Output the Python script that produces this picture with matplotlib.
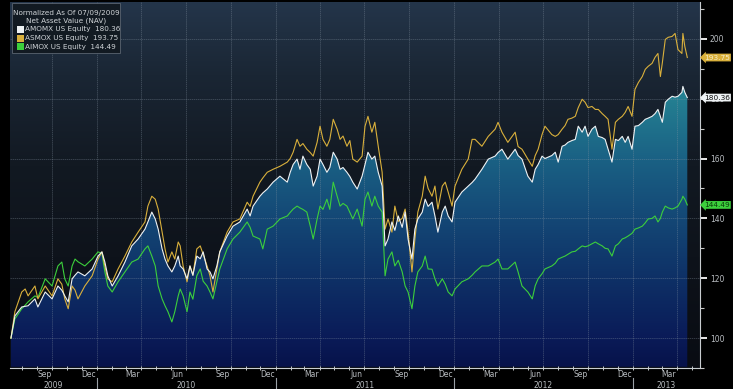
import numpy as np
import pandas as pd
import matplotlib
matplotlib.use('Agg')
import matplotlib.pyplot as plt
import matplotlib.dates as mdates
from matplotlib.colors import LinearSegmentedColormap
from matplotlib.transforms import blended_transform_factory
from matplotlib.patches import Rectangle

# ---------------- data ----------------
start_date = '2009-07-09'
day_offsets = [0, 8, 22, 29, 35, 49, 55, 70, 84, 96, 104, 110, 117, 125, 131, 137, 151, 166, 178, 186,
               192, 198, 207, 219, 233, 247, 260, 274, 280, 288, 295, 301, 309, 315, 321, 329, 335, 342,
               346, 352, 360, 366, 372, 380, 387, 393, 401, 407, 413, 421, 427, 442, 454, 468, 483, 489,
               495, 509, 515, 524, 536, 550, 565, 571, 577, 585, 591, 597, 605, 612, 618, 626, 632, 638,
               646, 652, 659, 667, 673, 679, 687, 693, 699, 708, 718, 724, 730, 738, 744, 751, 759, 765,
               771, 779, 785, 792, 800, 806, 812, 820, 826, 832, 841, 847, 853, 861, 867, 873, 882, 888,
               894, 902, 908, 922, 935, 943, 949, 963, 976, 990, 996, 1004, 1016, 1031, 1037, 1045, 1057,
               1066, 1072, 1078, 1086, 1092, 1106, 1113, 1119, 1127, 1133, 1139, 1147, 1154, 1160, 1168,
               1174, 1180, 1188, 1195, 1201, 1209, 1215, 1221, 1229, 1236, 1242, 1250, 1256, 1262, 1270,
               1276, 1283, 1291, 1297, 1303, 1311, 1317, 1323, 1328, 1332, 1338, 1344, 1352, 1358, 1364,
               1372, 1374, 1378, 1383]

amomx = [100, 107.4, 110.4, 110.6, 110.8, 113.1, 110.4, 115.4, 113.1, 117.4, 116.0, 114.1, 112.1, 119.8,
         121.0, 122.1, 120.8, 123.1, 127.4, 128.8, 125.4, 120.8, 117.4, 120.8, 125.4, 130.8, 133.1, 136.4,
         138.8, 142.1, 139.8, 136.4, 129.8, 126.4, 124.1, 122.1, 124.1, 127.4, 124.1, 123.1, 119.8, 124.1,
         121.0, 127.4, 126.5, 128.8, 123.1, 122.1, 119.8, 124.1, 128.8, 134.1, 137.4, 138.8, 143.1, 140.8,
         144.1, 147.4, 148.5, 149.8, 152.1, 154.1, 152.1, 155.4, 158.0, 159.8, 156.4, 160.8, 158.0, 156.4,
         150.8, 154.1, 159.8, 158.0, 155.4, 157.0, 162.1, 159.8, 156.4, 157.0, 155.4, 154.0, 152.1, 149.8,
         154.1, 158.0, 162.1, 159.8, 160.8, 155.4, 150.8, 130.8, 133.1, 138.8, 136.0, 140.8, 137.0, 142.1,
         133.1, 126.4, 136.4, 139.8, 142.1, 146.4, 144.0, 145.4, 140.8, 135.4, 142.1, 144.1, 140.8, 138.8,
         145.4, 148.8, 150.8, 152.0, 153.1, 156.4, 159.8, 160.8, 162.0, 163.1, 159.8, 163.1, 161.0, 159.8,
         154.1, 152.1, 156.4, 158.0, 160.8, 160.0, 161.0, 162.1, 158.8, 164.1, 164.5, 165.4, 166.0, 166.4,
         170.8, 168.8, 170.8, 167.4, 169.8, 170.8, 167.4, 167.0, 166.4, 163.1, 158.8, 166.4, 166.0, 167.4,
         165.4, 167.4, 163.1, 170.8, 171.0, 172.1, 173.1, 173.5, 174.1, 175.0, 176.4, 174.0, 172.1, 178.8,
         179.8, 180.8, 180.5, 180.8, 182.1, 184.1, 182.1, 180.36]

asmox = [100, 108.8, 115.4, 116.4, 114.1, 117.4, 113.1, 117.4, 114.1, 119.8, 118.0, 113.1, 109.8, 117.4,
         116.0, 113.1, 117.4, 120.8, 126.4, 128.8, 124.1, 119.8, 118.8, 123.1, 127.4, 132.1, 135.4, 138.8,
         144.1, 147.4, 146.4, 143.1, 135.4, 129.8, 125.4, 128.8, 126.4, 132.1, 130.8, 124.1, 118.8, 124.1,
         121.0, 129.8, 130.8, 128.0, 124.1, 120.8, 115.4, 123.1, 128.8, 135.4, 138.8, 139.8, 145.4, 144.0,
         147.4, 152.1, 153.5, 155.4, 156.4, 157.4, 158.8, 160.0, 162.1, 166.4, 164.1, 165.0, 163.1, 162.0,
         160.8, 165.4, 170.8, 166.4, 164.1, 166.4, 173.1, 169.8, 166.4, 167.5, 164.1, 166.0, 159.8, 158.8,
         160.8, 170.8, 174.1, 168.8, 172.1, 164.1, 155.4, 136.4, 139.8, 135.4, 144.1, 139.0, 140.0, 143.1,
         135.4, 122.1, 133.1, 142.1, 147.4, 154.1, 150.0, 147.4, 150.8, 143.1, 150.8, 152.1, 148.8, 144.1,
         150.8, 156.4, 159.8, 166.4, 166.4, 164.1, 167.4, 169.8, 172.1, 168.8, 165.4, 168.8, 164.0, 163.1,
         159.8, 157.4, 161.0, 163.1, 168.0, 170.8, 168.0, 167.4, 168.0, 169.8, 171.0, 173.1, 173.5, 174.1,
         177.0, 179.8, 178.8, 177.0, 177.4, 176.4, 176.4, 175.0, 174.1, 173.1, 163.1, 172.1, 173.1, 174.1,
         175.4, 177.4, 174.1, 183.1, 185.4, 187.4, 189.8, 190.8, 191.8, 193.8, 195.1, 187.4, 192.0, 199.8,
         200.5, 200.8, 201.8, 196.4, 195.1, 201.8, 197.4, 193.75]

aimox = [100, 106.4, 109.8, 111.0, 112.1, 114.1, 113.5, 119.8, 117.4, 124.1, 125.4, 119.8, 117.4, 124.1,
         126.4, 125.5, 124.1, 126.4, 128.8, 128.3, 122.1, 117.4, 115.4, 118.8, 122.1, 125.4, 126.4, 129.8,
         130.8, 127.4, 124.1, 117.4, 113.1, 110.8, 108.8, 105.4, 108.8, 114.1, 116.4, 114.1, 108.8, 115.4,
         113.0, 120.8, 123.1, 119.0, 117.4, 115.4, 113.1, 118.8, 123.1, 129.8, 133.1, 135.4, 138.8, 137.0,
         134.1, 133.1, 129.8, 136.4, 137.4, 139.8, 140.8, 142.0, 143.1, 144.1, 143.5, 143.0, 142.1, 137.4,
         133.1, 139.8, 144.1, 143.0, 146.4, 143.0, 152.1, 147.4, 144.1, 145.0, 144.1, 142.0, 139.8, 143.1,
         137.4, 146.4, 148.8, 144.1, 147.4, 144.1, 142.1, 120.8, 126.4, 128.8, 124.1, 126.0, 122.1, 117.4,
         115.4, 109.8, 117.4, 122.1, 124.1, 127.4, 123.1, 123.0, 119.8, 117.4, 119.8, 118.0, 115.4, 114.1,
         116.4, 118.8, 119.8, 121.0, 122.1, 124.1, 124.1, 125.4, 126.4, 123.1, 123.1, 125.4, 122.1, 117.4,
         115.4, 113.1, 117.5, 119.8, 121.5, 123.1, 124.1, 125.0, 126.4, 127.0, 127.4, 128.0, 128.8, 129.0,
         129.8, 130.8, 130.5, 130.8, 131.5, 132.1, 131.5, 130.8, 130.0, 129.8, 127.4, 130.8, 131.5, 133.1,
         133.5, 134.1, 135.0, 136.4, 136.8, 137.4, 138.5, 139.8, 140.0, 140.8, 138.8, 140.0, 142.1, 144.1,
         143.5, 143.1, 143.5, 144.1, 146.4, 147.4, 146.4, 144.49]

series_names = ['AMOMX US Equity', 'ASMOX US Equity', 'AIMOX US Equity']
last_values = [180.36, 193.75, 144.49]
series_colors = ['#eef2f4', '#d9b03c', '#3ccf3c']
legend_title = ['Normalized As Of 07/09/2009', 'Net Asset Value (NAV)']
month_labels = {9: 'Sep', 12: 'Dec', 3: 'Mar', 6: 'Jun'}
y_major = [100, 120, 140, 160, 180, 200]
y_minor = [90, 110, 130, 150, 170, 190, 210]
axis_start, axis_end = '2009-07-07', '2013-05-18'
y_low, y_high = 90.4, 212.3

# ---------------- figure ----------------
W, H = 733, 389
fig = plt.figure(figsize=(W / 100, H / 100), dpi=100, facecolor='black')
ax = fig.add_axes([10 / W, 21 / H, 690 / W, 366 / H])
ax.set_facecolor('#0a0e15')

dates = pd.Timestamp(start_date) + pd.to_timedelta(day_offsets, unit='D')
xmin, xmax = pd.Timestamp(axis_start), pd.Timestamp(axis_end)
x0n, x1n = mdates.date2num(xmin), mdates.date2num(xmax)
ax.set_xlim(xmin, xmax)
ax.set_ylim(y_low, y_high)

grad = np.linspace(0, 1, 512).reshape(-1, 1)
bg_cmap = LinearSegmentedColormap.from_list('bg', [(0, '#090c13'), (0.3, '#0e131b'),
                                                   (0.55, '#121922'), (0.8, '#1a2634'),
                                                   (1, '#24354a')])
ax.imshow(grad, extent=[x0n, x1n, y_low, y_high], origin='lower', aspect='auto',
          cmap=bg_cmap, zorder=0, interpolation='bilinear')

fill_cmap = LinearSegmentedColormap.from_list('fill', [(0, '#07124a'), (0.08, '#0a1b58'),
                                                       (0.24, '#0e3066'), (0.41, '#144876'),
                                                       (0.57, '#1a6184'), (0.74, '#248092'),
                                                       (1, '#33a2b2')])
poly = ax.fill_between(dates, amomx, y_low, facecolor='none', edgecolor='none')
im = ax.imshow(grad, extent=[x0n, x1n, y_low, y_high], origin='lower', aspect='auto',
               cmap=fill_cmap, zorder=1, interpolation='bilinear')
im.set_clip_path(poly.get_paths()[0], transform=ax.transData)

# grid
grid_kw = dict(color='#8a98a6', lw=0.5, alpha=0.45, zorder=2, ls=(0, (2, 1)))
for yv in y_major:
    ax.axhline(yv, **grid_kw)
for q in pd.date_range('2009-10-01', axis_end, freq='QS'):
    ax.axvline(q, **grid_kw)

# lines
ax.plot(dates, aimox, color=series_colors[2], lw=0.8, zorder=3)
ax.plot(dates, asmox, color=series_colors[1], lw=0.8, zorder=4)
ax.plot(dates, amomx, color=series_colors[0], lw=0.8, zorder=5)

# spines
for s in ['left', 'top']:
    ax.spines[s].set_visible(False)
for s in ['bottom', 'right']:
    ax.spines[s].set_color('#c8ccd0')
    ax.spines[s].set_linewidth(0.8)

# y axis on right
ax.yaxis.tick_right()
ax.set_yticks(y_major)
ax.set_yticks(y_minor, minor=True)
ax.tick_params(axis='y', which='major', length=5, width=1.4, color='#e8e8e8',
               labelsize=5.5, labelcolor='#b8bcc0', pad=2)
ax.tick_params(axis='y', which='minor', length=3, width=0.8, color='#c8c8c8')

# x axis
mstarts = pd.date_range('2009-08-01', axis_end, freq='MS')
ax.set_xticks(mstarts, minor=True)
lab_dates = [pd.Timestamp(d.year, d.month, 15) for d in pd.date_range('2009-07-01', axis_end, freq='MS')
             if d.month in month_labels]
ax.set_xticks(lab_dates)
ax.set_xticklabels([month_labels[d.month] for d in lab_dates])
ax.tick_params(axis='x', which='major', length=0, labelsize=5.5, labelcolor='#b8bcc0', pad=1.5)
ax.tick_params(axis='x', which='minor', length=2.5, width=0.7, color='#c8ccd0', direction='inout')

trans = blended_transform_factory(ax.transData, ax.transAxes)
for yr in range(2009, 2014):
    a = max(pd.Timestamp(yr, 1, 1), xmin)
    b = min(pd.Timestamp(yr + 1, 1, 1), xmax)
    mid = a + (b - a) / 2
    ax.text(mid, -0.048, str(yr), transform=trans, ha='center', va='center',
            fontsize=5.5, color='#b8bcc0', clip_on=False)
    if yr > 2009:
        ax.plot([pd.Timestamp(yr, 1, 1)] * 2, [-0.028, -0.055], transform=trans,
                color='#9aa0a6', lw=0.8, clip_on=False)

# last-value tags
vtrans = blended_transform_factory(ax.transAxes, ax.transData)
tag_text_colors = ['#101010', '#f4ecc8', '#0a3a0a']
for v, c, tc in zip(last_values, series_colors, tag_text_colors):
    ax.text(1.006, v, f'{v:.2f}', transform=vtrans, ha='left', va='center', fontsize=5.3,
            color=tc, clip_on=False, zorder=10,
            bbox=dict(boxstyle='larrow,pad=0.12', fc=c, ec='none'))

# legend box
fig.add_artist(Rectangle((12 / W, 1 - 53 / H), 108 / W, 50 / H, transform=fig.transFigure,
                         fc='#121a22', ec='#5a6470', lw=0.6, zorder=20))
fig.text(66 / W, 1 - 13 / H, legend_title[0], ha='center', va='center', fontsize=5.2,
         color='#d0d4d8', zorder=21)
fig.text(66 / W, 1 - 21 / H, legend_title[1], ha='center', va='center', fontsize=5.2,
         color='#d0d4d8', zorder=21)
for i, (nm, v, c) in enumerate(zip(series_names, last_values, series_colors)):
    yc = 1 - (29.5 + 8.5 * i) / H
    fig.add_artist(Rectangle((17 / W, yc - 3.5 / H), 7 / W, 7 / H, transform=fig.transFigure,
                             fc=c, ec='none', zorder=21))
    fig.text(25 / W, yc, f'{nm}  {v:.2f}', ha='left', va='center', fontsize=5.2,
             color='#d0d4d8', zorder=21)

fig.savefig('out.png', dpi=100, facecolor='black')
